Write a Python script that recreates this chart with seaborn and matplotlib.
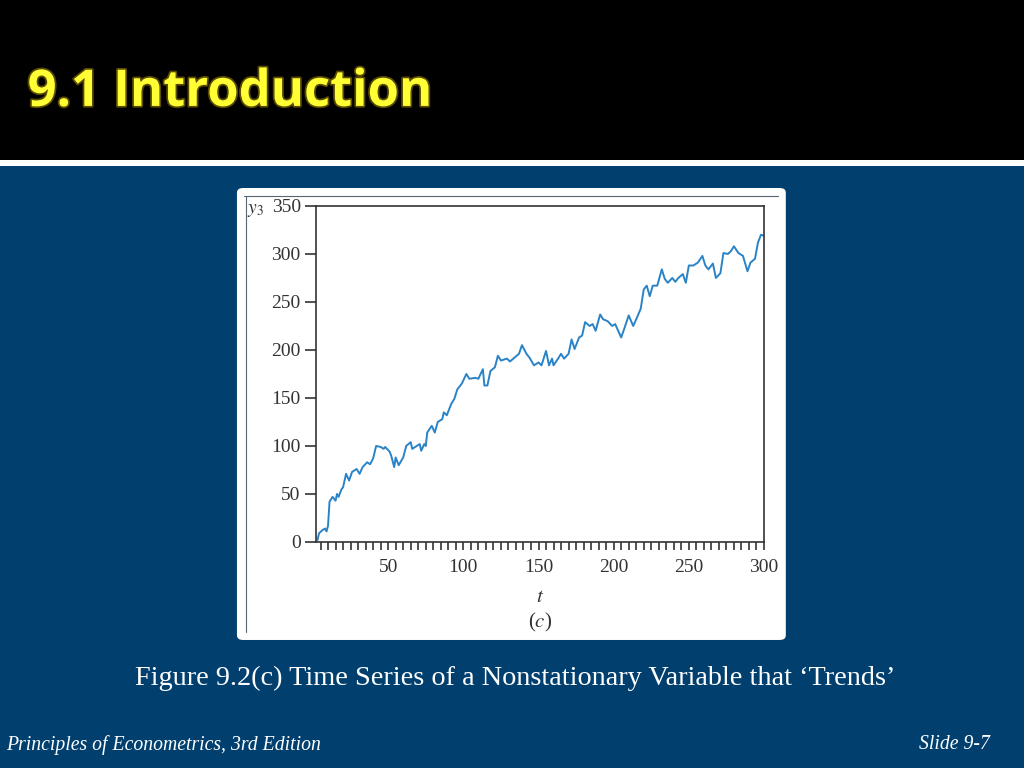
import seaborn as sns
import matplotlib.pyplot as plt
import pandas as pd
from matplotlib.patches import Rectangle, FancyBboxPatch
from matplotlib.lines import Line2D
import matplotlib.patheffects as pe

# series (t, y3)
t = [3, 4, 6, 8, 9, 10, 11, 13, 15, 16,
     17, 19, 20, 22, 24, 26, 29, 31, 33, 36,
     38, 40, 42, 45, 47, 48, 51, 52, 54, 55,
     57, 60, 62, 65, 66, 68, 71, 72, 74, 75,
     76, 79, 81, 83, 86, 87, 89, 92, 94, 96,
     99, 102, 104, 108, 110, 113, 114, 116, 118, 121,
     123, 125, 129, 131, 134, 137, 139, 142, 144, 147,
     150, 152, 155, 157, 159, 160, 163, 165, 167, 170,
     172, 174, 177, 179, 181, 184, 186, 188, 191, 193,
     196, 199, 201, 205, 207, 210, 213, 215, 218, 220,
     222, 224, 226, 229, 232, 234, 236, 239, 241, 243,
     246, 248, 250, 253, 256, 259, 261, 263, 266, 268,
     271, 273, 276, 278, 280, 283, 286, 289, 291, 294,
     296, 298, 300]
y3 = [2, 9, 12, 14, 11, 17, 42, 47, 43, 50,
      47, 55, 57, 71, 64, 73, 76, 71, 78, 83,
      81, 87, 100, 99, 97, 99, 94, 90, 78, 88,
      80, 88, 100, 104, 97, 99, 102, 95, 102, 100,
      114, 121, 114, 125, 128, 135, 132, 144, 149, 159,
      165, 175, 170, 171, 170, 180, 163, 163, 178, 182,
      194, 189, 191, 188, 192, 196, 205, 196, 192, 184,
      187, 184, 199, 184, 191, 184, 191, 196, 191, 196,
      211, 201, 213, 215, 229, 225, 227, 220, 237, 232,
      230, 225, 227, 213, 222, 236, 225, 232, 243, 263,
      267, 256, 267, 267, 284, 274, 270, 275, 271, 275,
      279, 270, 288, 288, 291, 298, 288, 284, 290, 275,
      280, 301, 300, 303, 308, 301, 298, 282, 291, 295,
      312, 320, 319]
x_ticks = [50, 100, 150, 200, 250, 300]
y_ticks = [0, 50, 100, 150, 200, 250, 300, 350]

df = pd.DataFrame({'t': t, 'y3': y3})

sns.set_style("ticks")
plt.rcParams['font.family'] = ['Liberation Serif', 'DejaVu Serif']
plt.rcParams['mathtext.fontset'] = 'stix'

fig = plt.figure(figsize=(10.24, 7.68), dpi=100)
fig.patch.set_facecolor('#003f6e')

# slide header band
fig.patches.append(Rectangle((0, 0.7917), 1, 0.2083, transform=fig.transFigure,
                             facecolor='black', edgecolor='none', zorder=-3))
fig.patches.append(Rectangle((0, 0.7839), 1, 0.0078, transform=fig.transFigure,
                             facecolor='white', edgecolor='none', zorder=-3))
# white picture panel
fig.patches.append(FancyBboxPatch((0.2314, 0.1667), 0.536, 0.5885,
                                  boxstyle="round,pad=0,rounding_size=0.006",
                                  transform=fig.transFigure, facecolor='white',
                                  edgecolor='none', zorder=-3))
fig.lines.append(Line2D([0.238, 0.760], [0.7448, 0.7448], transform=fig.transFigure,
                        color='#556677', lw=0.8, zorder=-2))
fig.lines.append(Line2D([0.2402, 0.2402], [0.7448, 0.177], transform=fig.transFigure,
                        color='#556677', lw=0.8, zorder=-2))

ax = fig.add_axes([0.3086, 0.2943, 0.4375, 0.4375])
ax.set_zorder(2)
sns.lineplot(x='t', y='y3', data=df, ax=ax, color='#2a83c6', linewidth=1.4)
ax.set_xlim(2, 300)
ax.set_ylim(0, 350)
ax.set_xticks(x_ticks)
ax.set_xticks(list(range(5, 300, 5)), minor=True)
ax.set_yticks(y_ticks)
ax.tick_params(axis='both', which='both', direction='out', color='#333333',
               width=1.2, labelsize=14, labelcolor='#333333')
ax.tick_params(axis='x', which='both', length=6, pad=6)
ax.tick_params(axis='y', length=8, pad=3)
for s in ax.spines.values():
    s.set_color('#333333')
    s.set_linewidth(1.2)
ax.set_xlabel('')
ax.set_ylabel('')

fig.text(0.2415, 0.7255, '$y_3$', fontsize=14, color='#333333', ha='left', va='center')
fig.text(0.527, 0.2215, '$t$', fontsize=15, color='#333333', ha='center', va='center')
fig.text(0.527, 0.189, '($c$)', fontsize=15, color='#333333', ha='center', va='center')

# slide texts
fig.text(0.027, 0.879, '9.1 Introduction', fontsize=36.5, fontweight='bold',
         color='#ffff33', family=['Open Sans', 'DejaVu Sans'], ha='left', va='center',
         path_effects=[pe.withStroke(linewidth=2.5, foreground='#5a4a00')])
fig.text(0.503, 0.117, 'Figure 9.2(c) Time Series of a Nonstationary Variable that \u2018Trends\u2019',
         fontsize=20.3, color='white', ha='center', va='center')
fig.text(0.006, 0.030, 'Principles of Econometrics, 3rd Edition', fontsize=14.2,
         style='italic', color='white', ha='left', va='center')
fig.text(0.967, 0.030, 'Slide 9-7', fontsize=14.2, style='italic', color='white',
         ha='right', va='center')

plt.savefig('out.png', dpi=100, facecolor=fig.get_facecolor())
